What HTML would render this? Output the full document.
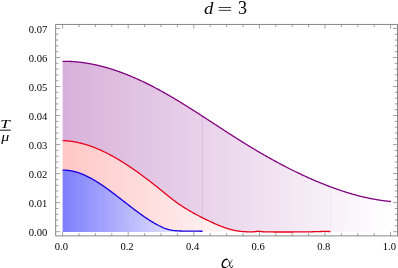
<!DOCTYPE html>
<html><head><meta charset="utf-8"><style>
html,body{margin:0;padding:0;background:#fff;}
svg{display:block;}
text{font-family:"Liberation Serif",serif;fill:#000;}
</style></head><body>
<div style="will-change:transform;width:398px;height:268px;overflow:hidden"><svg width="398" height="268" viewBox="0 0 398 268">
<defs>
<linearGradient id="gp" gradientUnits="userSpaceOnUse" x1="62.6" y1="0" x2="391" y2="0">
<stop offset="0" stop-color="#d8b1da"/><stop offset="1" stop-color="#ffffff"/></linearGradient>
<linearGradient id="gr" gradientUnits="userSpaceOnUse" x1="62.6" y1="0" x2="265" y2="0">
<stop offset="0" stop-color="#ffc6c6"/><stop offset="1" stop-color="#ffffff"/></linearGradient>
<linearGradient id="gb" gradientUnits="userSpaceOnUse" x1="62.6" y1="0" x2="202.5" y2="0">
<stop offset="0" stop-color="#7e7efc"/><stop offset="1" stop-color="#fafaff"/></linearGradient>
</defs>
<rect width="398" height="268" fill="#fff"/>
<path d="M62.60,61.32 L63.10,61.31 L63.60,61.31 L64.10,61.31 L64.60,61.31 L65.10,61.31 L65.60,61.32 L66.10,61.32 L66.60,61.33 L67.10,61.34 L67.60,61.35 L68.10,61.37 L68.60,61.38 L69.10,61.40 L69.60,61.42 L70.10,61.44 L70.60,61.46 L71.10,61.49 L71.60,61.52 L72.10,61.55 L72.60,61.58 L73.10,61.61 L73.60,61.64 L74.10,61.68 L74.60,61.72 L75.10,61.76 L75.60,61.80 L76.10,61.84 L76.60,61.89 L77.10,61.93 L77.60,61.98 L78.10,62.03 L78.60,62.08 L79.10,62.14 L79.60,62.19 L80.10,62.25 L80.60,62.31 L81.10,62.37 L81.60,62.43 L82.10,62.49 L82.60,62.56 L83.10,62.63 L83.60,62.70 L84.10,62.77 L84.60,62.84 L85.10,62.92 L85.60,62.99 L86.10,63.07 L86.60,63.15 L87.10,63.23 L87.60,63.31 L88.10,63.40 L88.60,63.48 L89.10,63.57 L89.60,63.66 L90.10,63.75 L90.60,63.84 L91.10,63.94 L91.60,64.03 L92.10,64.13 L92.60,64.23 L93.10,64.33 L93.60,64.43 L94.10,64.54 L94.60,64.64 L95.10,64.75 L95.60,64.86 L96.10,64.97 L96.60,65.08 L97.10,65.20 L97.60,65.31 L98.10,65.43 L98.60,65.55 L99.10,65.67 L99.60,65.79 L100.10,65.91 L100.60,66.03 L101.10,66.16 L101.60,66.29 L102.10,66.42 L102.60,66.55 L103.10,66.68 L103.60,66.81 L104.10,66.95 L104.60,67.09 L105.10,67.22 L105.60,67.36 L106.10,67.50 L106.60,67.65 L107.10,67.79 L107.60,67.94 L108.10,68.08 L108.60,68.23 L109.10,68.38 L109.60,68.53 L110.10,68.69 L110.60,68.84 L111.10,69.00 L111.60,69.15 L112.10,69.31 L112.60,69.47 L113.10,69.63 L113.60,69.80 L114.10,69.96 L114.60,70.13 L115.10,70.29 L115.60,70.46 L116.10,70.63 L116.60,70.80 L117.10,70.97 L117.60,71.15 L118.10,71.32 L118.60,71.50 L119.10,71.68 L119.60,71.86 L120.10,72.04 L120.60,72.22 L121.10,72.40 L121.60,72.59 L122.10,72.77 L122.60,72.96 L123.10,73.15 L123.60,73.34 L124.10,73.53 L124.60,73.73 L125.10,73.92 L125.60,74.11 L126.10,74.31 L126.60,74.51 L127.10,74.71 L127.60,74.91 L128.10,75.11 L128.60,75.31 L129.10,75.52 L129.60,75.72 L130.10,75.93 L130.60,76.14 L131.10,76.35 L131.60,76.56 L132.10,76.77 L132.60,76.98 L133.10,77.19 L133.60,77.41 L134.10,77.63 L134.60,77.84 L135.10,78.06 L135.60,78.28 L136.10,78.50 L136.60,78.73 L137.10,78.95 L137.60,79.18 L138.10,79.40 L138.60,79.63 L139.10,79.86 L139.60,80.09 L140.10,80.32 L140.60,80.55 L141.10,80.78 L141.60,81.02 L142.10,81.25 L142.60,81.49 L143.10,81.73 L143.60,81.96 L144.10,82.20 L144.60,82.44 L145.10,82.69 L145.60,82.93 L146.10,83.17 L146.60,83.42 L147.10,83.66 L147.60,83.91 L148.10,84.16 L148.60,84.41 L149.10,84.66 L149.60,84.91 L150.10,85.16 L150.60,85.42 L151.10,85.67 L151.60,85.93 L152.10,86.19 L152.60,86.44 L153.10,86.70 L153.60,86.96 L154.10,87.22 L154.60,87.49 L155.10,87.75 L155.60,88.01 L156.10,88.28 L156.60,88.54 L157.10,88.81 L157.60,89.08 L158.10,89.35 L158.60,89.62 L159.10,89.89 L159.60,90.16 L160.10,90.43 L160.60,90.71 L161.10,90.98 L161.60,91.26 L162.10,91.53 L162.60,91.81 L163.10,92.09 L163.60,92.37 L164.10,92.65 L164.60,92.93 L165.10,93.21 L165.60,93.49 L166.10,93.78 L166.60,94.06 L167.10,94.35 L167.60,94.63 L168.10,94.92 L168.60,95.21 L169.10,95.50 L169.60,95.79 L170.10,96.08 L170.60,96.37 L171.10,96.66 L171.60,96.95 L172.10,97.25 L172.60,97.54 L173.10,97.84 L173.60,98.13 L174.10,98.43 L174.60,98.73 L175.10,99.03 L175.60,99.32 L176.10,99.62 L176.60,99.92 L177.10,100.23 L177.60,100.53 L178.10,100.83 L178.60,101.13 L179.10,101.44 L179.60,101.74 L180.10,102.05 L180.60,102.35 L181.10,102.66 L181.60,102.96 L182.10,103.27 L182.60,103.58 L183.10,103.89 L183.60,104.20 L184.10,104.51 L184.60,104.82 L185.10,105.13 L185.60,105.44 L186.10,105.75 L186.60,106.06 L187.10,106.38 L187.60,106.69 L188.10,107.00 L188.60,107.32 L189.10,107.63 L189.60,107.95 L190.10,108.26 L190.60,108.58 L191.10,108.90 L191.60,109.21 L192.10,109.53 L192.60,109.85 L193.10,110.17 L193.60,110.49 L194.10,110.80 L194.60,111.12 L195.10,111.44 L195.60,111.76 L196.10,112.08 L196.60,112.40 L197.10,112.73 L197.60,113.05 L198.10,113.37 L198.60,113.69 L199.10,114.01 L199.60,114.34 L200.10,114.66 L200.60,114.98 L201.10,115.30 L201.60,115.63 L202.10,115.95 L202.60,116.28 L203.10,116.60 L203.60,116.92 L204.10,117.25 L204.60,117.57 L205.10,117.90 L205.60,118.22 L206.10,118.55 L206.60,118.87 L207.10,119.20 L207.60,119.53 L208.10,119.85 L208.60,120.18 L209.10,120.50 L209.60,120.83 L210.10,121.16 L210.60,121.48 L211.10,121.81 L211.60,122.13 L212.10,122.46 L212.60,122.79 L213.10,123.11 L213.60,123.44 L214.10,123.77 L214.60,124.09 L215.10,124.42 L215.60,124.75 L216.10,125.07 L216.60,125.40 L217.10,125.72 L217.60,126.05 L218.10,126.38 L218.60,126.70 L219.10,127.03 L219.60,127.36 L220.10,127.68 L220.60,128.01 L221.10,128.33 L221.60,128.66 L222.10,128.98 L222.60,129.31 L223.10,129.63 L223.60,129.96 L224.10,130.28 L224.60,130.61 L225.10,130.93 L225.60,131.26 L226.10,131.58 L226.60,131.90 L227.10,132.23 L227.60,132.55 L228.10,132.87 L228.60,133.20 L229.10,133.52 L229.60,133.84 L230.10,134.16 L230.60,134.48 L231.10,134.81 L231.60,135.13 L232.10,135.45 L232.60,135.77 L233.10,136.09 L233.60,136.41 L234.10,136.73 L234.60,137.04 L235.10,137.36 L235.60,137.68 L236.10,138.00 L236.60,138.32 L237.10,138.63 L237.60,138.95 L238.10,139.27 L238.60,139.58 L239.10,139.90 L239.60,140.21 L240.10,140.53 L240.60,140.84 L241.10,141.15 L241.60,141.46 L242.10,141.78 L242.60,142.09 L243.10,142.40 L243.60,142.71 L244.10,143.02 L244.60,143.33 L245.10,143.64 L245.60,143.95 L246.10,144.26 L246.60,144.56 L247.10,144.87 L247.60,145.18 L248.10,145.48 L248.60,145.79 L249.10,146.09 L249.60,146.40 L250.10,146.70 L250.60,147.00 L251.10,147.31 L251.60,147.61 L252.10,147.91 L252.60,148.21 L253.10,148.51 L253.60,148.81 L254.10,149.11 L254.60,149.41 L255.10,149.70 L255.60,150.00 L256.10,150.30 L256.60,150.59 L257.10,150.89 L257.60,151.19 L258.10,151.48 L258.60,151.77 L259.10,152.07 L259.60,152.36 L260.10,152.65 L260.60,152.94 L261.10,153.23 L261.60,153.52 L262.10,153.81 L262.60,154.10 L263.10,154.39 L263.60,154.68 L264.10,154.97 L264.60,155.25 L265.10,155.54 L265.60,155.82 L266.10,156.11 L266.60,156.39 L267.10,156.68 L267.60,156.96 L268.10,157.24 L268.60,157.52 L269.10,157.80 L269.60,158.08 L270.10,158.36 L270.60,158.64 L271.10,158.92 L271.60,159.20 L272.10,159.48 L272.60,159.75 L273.10,160.03 L273.60,160.30 L274.10,160.58 L274.60,160.85 L275.10,161.12 L275.60,161.40 L276.10,161.67 L276.60,161.94 L277.10,162.21 L277.60,162.48 L278.10,162.75 L278.60,163.02 L279.10,163.29 L279.60,163.55 L280.10,163.82 L280.60,164.09 L281.10,164.35 L281.60,164.62 L282.10,164.88 L282.60,165.14 L283.10,165.40 L283.60,165.67 L284.10,165.93 L284.60,166.19 L285.10,166.45 L285.60,166.71 L286.10,166.96 L286.60,167.22 L287.10,167.48 L287.60,167.73 L288.10,167.99 L288.60,168.24 L289.10,168.50 L289.60,168.75 L290.10,169.00 L290.60,169.26 L291.10,169.51 L291.60,169.76 L292.10,170.01 L292.60,170.26 L293.10,170.50 L293.60,170.75 L294.10,171.00 L294.60,171.24 L295.10,171.49 L295.60,171.73 L296.10,171.98 L296.60,172.22 L297.10,172.46 L297.60,172.70 L298.10,172.94 L298.60,173.18 L299.10,173.42 L299.60,173.66 L300.10,173.90 L300.60,174.13 L301.10,174.37 L301.60,174.61 L302.10,174.84 L302.60,175.07 L303.10,175.31 L303.60,175.54 L304.10,175.77 L304.60,176.00 L305.10,176.23 L305.60,176.46 L306.10,176.69 L306.60,176.92 L307.10,177.14 L307.60,177.37 L308.10,177.59 L308.60,177.82 L309.10,178.04 L309.60,178.27 L310.10,178.49 L310.60,178.71 L311.10,178.93 L311.60,179.15 L312.10,179.37 L312.60,179.58 L313.10,179.80 L313.60,180.02 L314.10,180.23 L314.60,180.45 L315.10,180.66 L315.60,180.87 L316.10,181.09 L316.60,181.30 L317.10,181.51 L317.60,181.72 L318.10,181.93 L318.60,182.13 L319.10,182.34 L319.60,182.55 L320.10,182.75 L320.60,182.96 L321.10,183.16 L321.60,183.36 L322.10,183.57 L322.60,183.77 L323.10,183.97 L323.60,184.17 L324.10,184.37 L324.60,184.56 L325.10,184.76 L325.60,184.96 L326.10,185.15 L326.60,185.35 L327.10,185.54 L327.60,185.73 L328.10,185.92 L328.60,186.11 L329.10,186.30 L329.60,186.49 L330.10,186.68 L330.60,186.87 L331.10,187.05 L331.60,187.24 L332.10,187.42 L332.60,187.61 L333.10,187.79 L333.60,187.97 L334.10,188.15 L334.60,188.33 L335.10,188.51 L335.60,188.69 L336.10,188.87 L336.60,189.04 L337.10,189.22 L337.60,189.39 L338.10,189.57 L338.60,189.74 L339.10,189.91 L339.60,190.08 L340.10,190.25 L340.60,190.42 L341.10,190.59 L341.60,190.75 L342.10,190.92 L342.60,191.08 L343.10,191.25 L343.60,191.41 L344.10,191.57 L344.60,191.73 L345.10,191.89 L345.60,192.05 L346.10,192.21 L346.60,192.36 L347.10,192.52 L347.60,192.67 L348.10,192.82 L348.60,192.98 L349.10,193.13 L349.60,193.28 L350.10,193.43 L350.60,193.57 L351.10,193.72 L351.60,193.87 L352.10,194.01 L352.60,194.15 L353.10,194.30 L353.60,194.44 L354.10,194.58 L354.60,194.72 L355.10,194.85 L355.60,194.99 L356.10,195.13 L356.60,195.26 L357.10,195.39 L357.60,195.53 L358.10,195.66 L358.60,195.79 L359.10,195.92 L359.60,196.04 L360.10,196.17 L360.60,196.30 L361.10,196.42 L361.60,196.54 L362.10,196.66 L362.60,196.78 L363.10,196.90 L363.60,197.02 L364.10,197.14 L364.60,197.25 L365.10,197.37 L365.60,197.48 L366.10,197.59 L366.60,197.70 L367.10,197.81 L367.60,197.92 L368.10,198.03 L368.60,198.14 L369.10,198.24 L369.60,198.34 L370.10,198.44 L370.60,198.55 L371.10,198.65 L371.60,198.74 L372.10,198.84 L372.60,198.94 L373.10,199.03 L373.60,199.12 L374.10,199.22 L374.60,199.31 L375.10,199.39 L375.60,199.48 L376.10,199.57 L376.60,199.65 L377.10,199.74 L377.60,199.82 L378.10,199.90 L378.60,199.98 L379.10,200.06 L379.60,200.14 L380.10,200.21 L380.60,200.29 L381.10,200.36 L381.60,200.43 L382.10,200.50 L382.60,200.57 L383.10,200.64 L383.60,200.71 L384.10,200.77 L384.60,200.83 L385.10,200.90 L385.60,200.96 L386.10,201.02 L386.60,201.07 L387.10,201.13 L387.60,201.18 L388.10,201.24 L388.60,201.29 L389.10,201.34 L389.60,201.39 L390.10,201.44 L390.60,201.48 L391.00,201.52 L391.00,231.70 L390.00,231.70 L389.00,231.70 L388.00,231.70 L387.00,231.70 L386.00,231.70 L385.00,231.70 L384.00,231.70 L383.00,231.70 L382.00,231.70 L381.00,231.70 L380.00,231.70 L379.00,231.70 L378.00,231.70 L377.00,231.70 L376.00,231.70 L375.00,231.70 L374.00,231.70 L373.00,231.70 L372.00,231.70 L371.00,231.70 L370.00,231.70 L369.00,231.70 L368.00,231.70 L367.00,231.70 L366.00,231.70 L365.00,231.70 L364.00,231.70 L363.00,231.70 L362.00,231.70 L361.00,231.70 L360.00,231.70 L359.00,231.70 L358.00,231.70 L357.00,231.70 L356.00,231.70 L355.00,231.70 L354.00,231.70 L353.00,231.70 L352.00,231.70 L351.00,231.70 L350.00,231.70 L349.00,231.70 L348.00,231.70 L347.00,231.70 L346.00,231.70 L345.00,231.70 L344.00,231.70 L343.00,231.70 L342.00,231.70 L341.00,231.70 L340.00,231.70 L339.00,231.70 L338.00,231.70 L337.00,231.70 L336.00,231.70 L335.00,231.70 L334.00,231.70 L333.00,231.70 L332.00,231.70 L331.00,231.70 L330.00,231.53 L329.00,231.51 L328.00,231.48 L327.00,231.46 L326.00,231.45 L325.00,231.45 L324.00,231.46 L323.00,231.47 L322.00,231.49 L321.00,231.52 L320.00,231.55 L319.00,231.58 L318.00,231.62 L317.00,231.65 L316.00,231.68 L315.00,231.70 L314.00,231.72 L313.00,231.74 L312.00,231.76 L311.00,231.78 L310.00,231.80 L309.00,231.83 L308.00,231.85 L307.00,231.86 L306.00,231.88 L305.00,231.90 L304.00,231.91 L303.00,231.93 L302.00,231.94 L301.00,231.94 L300.00,231.95 L299.00,231.95 L298.00,231.96 L297.00,231.96 L296.00,231.97 L295.00,231.97 L294.00,231.97 L293.00,231.98 L292.00,231.98 L291.00,231.98 L290.00,231.99 L289.00,231.99 L288.00,231.99 L287.00,231.99 L286.00,231.99 L285.00,232.00 L284.00,232.00 L283.00,232.00 L282.00,232.00 L281.00,232.00 L280.00,232.00 L279.00,232.00 L278.00,232.00 L277.00,231.99 L276.00,231.99 L275.00,231.98 L274.00,231.98 L273.00,231.97 L272.00,231.96 L271.00,231.95 L270.00,231.93 L269.00,231.92 L268.00,231.90 L267.00,231.89 L266.00,231.87 L265.00,231.85 L264.00,231.82 L263.00,231.76 L262.00,231.68 L261.00,231.60 L260.00,231.47 L259.00,231.32 L258.00,231.25 L257.00,231.35 L256.00,231.56 L255.00,231.70 L254.00,231.75 L253.00,231.79 L252.00,231.82 L251.00,231.84 L250.00,231.85 L249.00,231.84 L248.00,231.82 L247.00,231.79 L246.00,231.74 L245.00,231.67 L244.00,231.60 L243.00,231.56 L242.00,231.49 L241.00,231.41 L240.00,231.31 L239.00,231.18 L238.00,231.04 L237.00,230.88 L236.00,230.71 L235.00,230.51 L234.00,230.30 L233.00,230.07 L232.00,229.83 L231.00,229.57 L230.00,229.30 L229.00,229.01 L228.00,228.71 L227.00,228.40 L226.00,228.07 L225.00,227.73 L224.00,227.38 L223.00,227.01 L222.00,226.64 L221.00,226.25 L220.00,225.86 L219.00,225.45 L218.00,225.04 L217.00,224.62 L216.00,224.18 L215.00,223.74 L214.00,223.30 L213.00,222.84 L212.00,222.38 L211.00,221.92 L210.00,221.45 L209.00,220.97 L208.00,220.49 L207.00,220.00 L206.00,219.51 L205.00,219.02 L204.00,218.52 L203.00,218.02 L202.00,217.52 L201.00,217.02 L200.00,216.51 L199.00,215.99 L198.00,215.47 L197.00,214.94 L196.00,214.41 L195.00,213.87 L194.00,213.33 L193.00,212.78 L192.00,212.22 L191.00,211.65 L190.00,211.08 L189.00,210.50 L188.00,209.91 L187.00,209.31 L186.00,208.70 L185.00,208.08 L184.00,207.45 L183.00,206.81 L182.00,206.16 L181.00,205.50 L180.00,204.83 L179.00,204.14 L178.00,203.44 L177.00,202.74 L176.00,202.01 L175.00,201.28 L174.00,200.53 L173.00,199.77 L172.00,199.00 L171.00,198.21 L170.00,197.42 L169.00,196.63 L168.00,195.82 L167.00,195.01 L166.00,194.20 L165.00,193.39 L164.00,192.57 L163.00,191.75 L162.00,190.94 L161.00,190.12 L160.00,189.31 L159.00,188.50 L158.00,187.70 L157.00,186.90 L156.00,186.10 L155.00,185.31 L154.00,184.52 L153.00,183.73 L152.00,182.94 L151.00,182.16 L150.00,181.39 L149.00,180.62 L148.00,179.85 L147.00,179.09 L146.00,178.33 L145.00,177.57 L144.00,176.82 L143.00,176.08 L142.00,175.34 L141.00,174.60 L140.00,173.87 L139.00,173.14 L138.00,172.42 L137.00,171.71 L136.00,171.00 L135.00,170.29 L134.00,169.60 L133.00,168.90 L132.00,168.22 L131.00,167.53 L130.00,166.86 L129.00,166.19 L128.00,165.53 L127.00,164.87 L126.00,164.22 L125.00,163.57 L124.00,162.94 L123.00,162.31 L122.00,161.68 L121.00,161.07 L120.00,160.46 L119.00,159.85 L118.00,159.26 L117.00,158.67 L116.00,158.09 L115.00,157.51 L114.00,156.95 L113.00,156.39 L112.00,155.84 L111.00,155.30 L110.00,154.76 L109.00,154.24 L108.00,153.72 L107.00,153.21 L106.00,152.71 L105.00,152.22 L104.00,151.73 L103.00,151.26 L102.00,150.79 L101.00,150.33 L100.00,149.89 L99.00,149.45 L98.00,149.02 L97.00,148.60 L96.00,148.19 L95.00,147.78 L94.00,147.39 L93.00,147.01 L92.00,146.64 L91.00,146.28 L90.00,145.92 L89.00,145.58 L88.00,145.25 L87.00,144.93 L86.00,144.62 L85.00,144.32 L84.00,144.03 L83.00,143.75 L82.00,143.48 L81.00,143.22 L80.00,142.98 L79.00,142.74 L78.00,142.52 L77.00,142.31 L76.00,142.11 L75.00,141.92 L74.00,141.74 L73.00,141.58 L72.00,141.42 L71.00,141.28 L70.00,141.15 L69.00,141.04 L68.00,140.93 L67.00,140.84 L66.00,140.76 L65.00,140.69 L64.00,140.64 L63.00,140.60 L62.6,140.58 Z" fill="url(#gp)"/>
<path d="M62.60,140.58 L63.10,140.60 L63.60,140.62 L64.10,140.64 L64.60,140.67 L65.10,140.70 L65.60,140.73 L66.10,140.77 L66.60,140.81 L67.10,140.85 L67.60,140.89 L68.10,140.94 L68.60,140.99 L69.10,141.05 L69.60,141.10 L70.10,141.17 L70.60,141.23 L71.10,141.30 L71.60,141.37 L72.10,141.44 L72.60,141.51 L73.10,141.59 L73.60,141.67 L74.10,141.76 L74.60,141.85 L75.10,141.94 L75.60,142.03 L76.10,142.13 L76.60,142.23 L77.10,142.33 L77.60,142.43 L78.10,142.54 L78.60,142.65 L79.10,142.77 L79.60,142.88 L80.10,143.00 L80.60,143.12 L81.10,143.25 L81.60,143.38 L82.10,143.51 L82.60,143.64 L83.10,143.78 L83.60,143.91 L84.10,144.06 L84.60,144.20 L85.10,144.35 L85.60,144.50 L86.10,144.65 L86.60,144.80 L87.10,144.96 L87.60,145.12 L88.10,145.28 L88.60,145.45 L89.10,145.61 L89.60,145.78 L90.10,145.96 L90.60,146.13 L91.10,146.31 L91.60,146.49 L92.10,146.67 L92.60,146.86 L93.10,147.05 L93.60,147.24 L94.10,147.43 L94.60,147.63 L95.10,147.82 L95.60,148.02 L96.10,148.23 L96.60,148.43 L97.10,148.64 L97.60,148.85 L98.10,149.06 L98.60,149.27 L99.10,149.49 L99.60,149.71 L100.10,149.93 L100.60,150.15 L101.10,150.38 L101.60,150.61 L102.10,150.84 L102.60,151.07 L103.10,151.30 L103.60,151.54 L104.10,151.78 L104.60,152.02 L105.10,152.27 L105.60,152.51 L106.10,152.76 L106.60,153.01 L107.10,153.26 L107.60,153.52 L108.10,153.77 L108.60,154.03 L109.10,154.29 L109.60,154.55 L110.10,154.82 L110.60,155.08 L111.10,155.35 L111.60,155.62 L112.10,155.90 L112.60,156.17 L113.10,156.45 L113.60,156.72 L114.10,157.01 L114.60,157.29 L115.10,157.57 L115.60,157.86 L116.10,158.15 L116.60,158.44 L117.10,158.73 L117.60,159.02 L118.10,159.32 L118.60,159.61 L119.10,159.91 L119.60,160.21 L120.10,160.52 L120.60,160.82 L121.10,161.13 L121.60,161.44 L122.10,161.74 L122.60,162.06 L123.10,162.37 L123.60,162.68 L124.10,163.00 L124.60,163.32 L125.10,163.64 L125.60,163.96 L126.10,164.28 L126.60,164.61 L127.10,164.93 L127.60,165.26 L128.10,165.59 L128.60,165.92 L129.10,166.26 L129.60,166.59 L130.10,166.93 L130.60,167.26 L131.10,167.60 L131.60,167.94 L132.10,168.28 L132.60,168.63 L133.10,168.97 L133.60,169.32 L134.10,169.67 L134.60,170.01 L135.10,170.36 L135.60,170.72 L136.10,171.07 L136.60,171.42 L137.10,171.78 L137.60,172.14 L138.10,172.50 L138.60,172.86 L139.10,173.22 L139.60,173.58 L140.10,173.94 L140.60,174.31 L141.10,174.67 L141.60,175.04 L142.10,175.41 L142.60,175.78 L143.10,176.15 L143.60,176.52 L144.10,176.90 L144.60,177.27 L145.10,177.65 L145.60,178.02 L146.10,178.40 L146.60,178.78 L147.10,179.16 L147.60,179.54 L148.10,179.93 L148.60,180.31 L149.10,180.69 L149.60,181.08 L150.10,181.47 L150.60,181.85 L151.10,182.24 L151.60,182.63 L152.10,183.02 L152.60,183.41 L153.10,183.81 L153.60,184.20 L154.10,184.59 L154.60,184.99 L155.10,185.39 L155.60,185.78 L156.10,186.18 L156.60,186.58 L157.10,186.98 L157.60,187.38 L158.10,187.78 L158.60,188.18 L159.10,188.58 L159.60,188.99 L160.10,189.39 L160.60,189.80 L161.10,190.20 L161.60,190.61 L162.10,191.02 L162.60,191.43 L163.10,191.83 L163.60,192.24 L164.10,192.65 L164.60,193.06 L165.10,193.47 L165.60,193.87 L166.10,194.28 L166.60,194.69 L167.10,195.09 L167.60,195.50 L168.10,195.90 L168.60,196.31 L169.10,196.71 L169.60,197.11 L170.10,197.50 L170.60,197.90 L171.10,198.29 L171.60,198.68 L172.10,199.07 L172.60,199.46 L173.10,199.84 L173.60,200.23 L174.10,200.60 L174.60,200.98 L175.10,201.35 L175.60,201.72 L176.10,202.09 L176.60,202.45 L177.10,202.81 L177.60,203.16 L178.10,203.51 L178.60,203.86 L179.10,204.21 L179.60,204.55 L180.10,204.89 L180.60,205.23 L181.10,205.57 L181.60,205.90 L182.10,206.23 L182.60,206.55 L183.10,206.87 L183.60,207.19 L184.10,207.51 L184.60,207.83 L185.10,208.14 L185.60,208.45 L186.10,208.76 L186.60,209.06 L187.10,209.37 L187.60,209.67 L188.10,209.97 L188.60,210.26 L189.10,210.56 L189.60,210.85 L190.10,211.14 L190.60,211.42 L191.10,211.71 L191.60,211.99 L192.10,212.28 L192.60,212.55 L193.10,212.83 L193.60,213.11 L194.10,213.38 L194.60,213.66 L195.10,213.93 L195.60,214.20 L196.10,214.46 L196.60,214.73 L197.10,215.00 L197.60,215.26 L198.10,215.52 L198.60,215.78 L199.10,216.04 L199.60,216.30 L200.10,216.56 L200.60,216.81 L201.10,217.07 L201.60,217.32 L202.10,217.57 L202.60,217.82 L203.10,218.08 L203.60,218.32 L204.10,218.57 L204.60,218.82 L205.10,219.07 L205.60,219.32 L206.10,219.56 L206.60,219.81 L207.10,220.05 L207.60,220.29 L208.10,220.54 L208.60,220.78 L209.10,221.02 L209.60,221.26 L210.10,221.49 L210.60,221.73 L211.10,221.96 L211.60,222.20 L212.10,222.43 L212.60,222.66 L213.10,222.89 L213.60,223.12 L214.10,223.34 L214.60,223.57 L215.10,223.79 L215.60,224.01 L216.10,224.23 L216.60,224.44 L217.10,224.66 L217.60,224.87 L218.10,225.08 L218.60,225.29 L219.10,225.49 L219.60,225.70 L220.10,225.90 L220.60,226.10 L221.10,226.29 L221.60,226.49 L222.10,226.68 L222.60,226.87 L223.10,227.05 L223.60,227.23 L224.10,227.41 L224.60,227.59 L225.10,227.76 L225.60,227.94 L226.10,228.10 L226.60,228.27 L227.10,228.43 L227.60,228.59 L228.10,228.74 L228.60,228.89 L229.10,229.04 L229.60,229.19 L230.10,229.33 L230.60,229.47 L231.10,229.60 L231.60,229.73 L232.10,229.86 L232.60,229.98 L233.10,230.10 L233.60,230.21 L234.10,230.32 L234.60,230.43 L235.10,230.53 L235.60,230.63 L236.10,230.72 L236.60,230.81 L237.10,230.90 L237.60,230.98 L238.10,231.06 L238.60,231.13 L239.10,231.20 L239.60,231.26 L240.10,231.32 L240.60,231.37 L241.10,231.42 L241.60,231.46 L242.10,231.50 L242.60,231.53 L243.10,231.56 L243.60,231.59 L244.00,231.60 L245.00,231.67 L246.00,231.74 L247.00,231.79 L248.00,231.82 L249.00,231.84 L250.00,231.85 L251.00,231.84 L252.00,231.82 L253.00,231.79 L254.00,231.75 L255.00,231.70 L256.00,231.56 L257.00,231.35 L258.00,231.25 L259.00,231.32 L260.00,231.47 L261.00,231.60 L262.00,231.68 L263.00,231.76 L264.00,231.82 L265.00,231.85 L266.00,231.87 L267.00,231.89 L268.00,231.90 L269.00,231.92 L270.00,231.93 L271.00,231.95 L272.00,231.96 L273.00,231.97 L274.00,231.98 L275.00,231.98 L276.00,231.99 L277.00,231.99 L278.00,232.00 L279.00,232.00 L280.00,232.00 L281.00,232.00 L282.00,232.00 L283.00,232.00 L284.00,232.00 L285.00,232.00 L286.00,231.99 L287.00,231.99 L288.00,231.99 L289.00,231.99 L290.00,231.99 L291.00,231.98 L292.00,231.98 L293.00,231.98 L294.00,231.97 L295.00,231.97 L296.00,231.97 L297.00,231.96 L298.00,231.96 L299.00,231.95 L300.00,231.95 L301.00,231.94 L302.00,231.94 L303.00,231.93 L304.00,231.91 L305.00,231.90 L306.00,231.88 L307.00,231.86 L308.00,231.85 L309.00,231.83 L310.00,231.80 L311.00,231.78 L312.00,231.76 L313.00,231.74 L314.00,231.72 L315.00,231.70 L316.00,231.68 L317.00,231.65 L318.00,231.62 L319.00,231.58 L320.00,231.55 L321.00,231.52 L322.00,231.49 L323.00,231.47 L324.00,231.46 L325.00,231.45 L326.00,231.45 L327.00,231.46 L328.00,231.48 L329.00,231.51 L330.00,231.53 L330.50,231.55 L330.50,231.70 L329.50,231.70 L328.50,231.70 L327.50,231.70 L326.50,231.70 L325.50,231.70 L324.50,231.70 L323.50,231.70 L322.50,231.70 L321.50,231.70 L320.50,231.70 L319.50,231.70 L318.50,231.70 L317.50,231.70 L316.50,231.70 L315.50,231.70 L314.50,231.70 L313.50,231.70 L312.50,231.70 L311.50,231.70 L310.50,231.70 L309.50,231.70 L308.50,231.70 L307.50,231.70 L306.50,231.70 L305.50,231.70 L304.50,231.70 L303.50,231.70 L302.50,231.70 L301.50,231.70 L300.50,231.70 L299.50,231.70 L298.50,231.70 L297.50,231.70 L296.50,231.70 L295.50,231.70 L294.50,231.70 L293.50,231.70 L292.50,231.70 L291.50,231.70 L290.50,231.70 L289.50,231.70 L288.50,231.70 L287.50,231.70 L286.50,231.70 L285.50,231.70 L284.50,231.70 L283.50,231.70 L282.50,231.70 L281.50,231.70 L280.50,231.70 L279.50,231.70 L278.50,231.70 L277.50,231.70 L276.50,231.70 L275.50,231.70 L274.50,231.70 L273.50,231.70 L272.50,231.70 L271.50,231.70 L270.50,231.70 L269.50,231.70 L268.50,231.70 L267.50,231.70 L266.50,231.70 L265.50,231.70 L264.50,231.70 L263.50,231.70 L262.50,231.70 L261.50,231.70 L260.50,231.70 L259.50,231.70 L258.50,231.70 L257.50,231.70 L256.50,231.70 L255.50,231.70 L254.50,231.70 L253.50,231.70 L252.50,231.70 L251.50,231.70 L250.50,231.70 L249.50,231.70 L248.50,231.70 L247.50,231.70 L246.50,231.70 L245.50,231.70 L244.50,231.70 L243.50,231.70 L242.50,231.70 L241.50,231.70 L240.50,231.70 L239.50,231.70 L238.50,231.70 L237.50,231.70 L236.50,231.70 L235.50,231.70 L234.50,231.70 L233.50,231.70 L232.50,231.70 L231.50,231.70 L230.50,231.70 L229.50,231.70 L228.50,231.70 L227.50,231.70 L226.50,231.70 L225.50,231.70 L224.50,231.70 L223.50,231.70 L222.50,231.70 L221.50,231.70 L220.50,231.70 L219.50,231.70 L218.50,231.70 L217.50,231.70 L216.50,231.70 L215.50,231.70 L214.50,231.70 L213.50,231.70 L212.50,231.70 L211.50,231.70 L210.50,231.70 L209.50,231.70 L208.50,231.70 L207.50,231.70 L206.50,231.70 L205.50,231.70 L204.50,231.70 L203.50,231.70 L202.50,231.30 L201.50,231.27 L200.50,231.24 L199.50,231.21 L198.50,231.19 L197.50,231.17 L196.50,231.15 L195.50,231.13 L194.50,231.12 L193.50,231.11 L192.50,231.10 L191.50,231.10 L190.50,231.10 L189.50,231.10 L188.50,231.10 L187.50,231.10 L186.50,231.10 L185.50,231.10 L184.50,231.10 L183.50,231.10 L182.50,231.08 L181.50,231.05 L180.50,231.02 L179.50,230.97 L178.50,230.92 L177.50,230.87 L176.50,230.80 L175.50,230.71 L174.50,230.61 L173.50,230.49 L172.50,230.35 L171.50,230.19 L170.50,229.99 L169.50,229.75 L168.50,229.49 L167.50,229.21 L166.50,228.91 L165.50,228.60 L164.50,228.25 L163.50,227.86 L162.50,227.43 L161.50,226.96 L160.50,226.46 L159.50,225.96 L158.50,225.44 L157.50,224.92 L156.50,224.37 L155.50,223.82 L154.50,223.25 L153.50,222.67 L152.50,222.07 L151.50,221.46 L150.50,220.84 L149.50,220.21 L148.50,219.57 L147.50,218.92 L146.50,218.25 L145.50,217.58 L144.50,216.89 L143.50,216.20 L142.50,215.50 L141.50,214.79 L140.50,214.08 L139.50,213.35 L138.50,212.62 L137.50,211.89 L136.50,211.14 L135.50,210.40 L134.50,209.64 L133.50,208.88 L132.50,208.12 L131.50,207.36 L130.50,206.59 L129.50,205.81 L128.50,205.04 L127.50,204.26 L126.50,203.48 L125.50,202.71 L124.50,201.93 L123.50,201.14 L122.50,200.36 L121.50,199.58 L120.50,198.81 L119.50,198.03 L118.50,197.25 L117.50,196.48 L116.50,195.71 L115.50,194.94 L114.50,194.18 L113.50,193.42 L112.50,192.66 L111.50,191.91 L110.50,191.17 L109.50,190.43 L108.50,189.70 L107.50,188.97 L106.50,188.25 L105.50,187.54 L104.50,186.84 L103.50,186.14 L102.50,185.45 L101.50,184.78 L100.50,184.11 L99.50,183.45 L98.50,182.81 L97.50,182.17 L96.50,181.54 L95.50,180.93 L94.50,180.33 L93.50,179.74 L92.50,179.17 L91.50,178.61 L90.50,178.06 L89.50,177.53 L88.50,177.01 L87.50,176.51 L86.50,176.02 L85.50,175.55 L84.50,175.10 L83.50,174.66 L82.50,174.24 L81.50,173.84 L80.50,173.46 L79.50,173.10 L78.50,172.75 L77.50,172.43 L76.50,172.12 L75.50,171.84 L74.50,171.57 L73.50,171.33 L72.50,171.11 L71.50,170.91 L70.50,170.74 L69.50,170.59 L68.50,170.46 L67.50,170.35 L66.50,170.27 L65.50,170.22 L64.50,170.19 L63.50,170.18 L62.6,170.20 Z" fill="url(#gr)"/>
<path d="M62.60,170.20 L63.10,170.19 L63.60,170.18 L64.10,170.18 L64.60,170.19 L65.10,170.20 L65.60,170.22 L66.10,170.25 L66.60,170.28 L67.10,170.32 L67.60,170.36 L68.10,170.41 L68.60,170.47 L69.10,170.53 L69.60,170.60 L70.10,170.67 L70.60,170.75 L71.10,170.84 L71.60,170.93 L72.10,171.03 L72.60,171.13 L73.10,171.24 L73.60,171.35 L74.10,171.47 L74.60,171.60 L75.10,171.73 L75.60,171.86 L76.10,172.00 L76.60,172.15 L77.10,172.30 L77.60,172.46 L78.10,172.62 L78.60,172.78 L79.10,172.96 L79.60,173.13 L80.10,173.31 L80.60,173.50 L81.10,173.69 L81.60,173.88 L82.10,174.08 L82.60,174.28 L83.10,174.49 L83.60,174.71 L84.10,174.92 L84.60,175.14 L85.10,175.37 L85.60,175.60 L86.10,175.83 L86.60,176.07 L87.10,176.31 L87.60,176.56 L88.10,176.81 L88.60,177.06 L89.10,177.32 L89.60,177.58 L90.10,177.85 L90.60,178.12 L91.10,178.39 L91.60,178.66 L92.10,178.94 L92.60,179.23 L93.10,179.51 L93.60,179.80 L94.10,180.10 L94.60,180.39 L95.10,180.69 L95.60,180.99 L96.10,181.30 L96.60,181.61 L97.10,181.92 L97.60,182.23 L98.10,182.55 L98.60,182.87 L99.10,183.19 L99.60,183.52 L100.10,183.85 L100.60,184.18 L101.10,184.51 L101.60,184.84 L102.10,185.18 L102.60,185.52 L103.10,185.87 L103.60,186.21 L104.10,186.56 L104.60,186.91 L105.10,187.26 L105.60,187.61 L106.10,187.97 L106.60,188.32 L107.10,188.68 L107.60,189.04 L108.10,189.41 L108.60,189.77 L109.10,190.14 L109.60,190.50 L110.10,190.87 L110.60,191.24 L111.10,191.61 L111.60,191.99 L112.10,192.36 L112.60,192.74 L113.10,193.12 L113.60,193.49 L114.10,193.87 L114.60,194.25 L115.10,194.64 L115.60,195.02 L116.10,195.40 L116.60,195.79 L117.10,196.17 L117.60,196.56 L118.10,196.94 L118.60,197.33 L119.10,197.72 L119.60,198.11 L120.10,198.49 L120.60,198.88 L121.10,199.27 L121.60,199.66 L122.10,200.05 L122.60,200.44 L123.10,200.83 L123.60,201.22 L124.10,201.61 L124.60,202.00 L125.10,202.39 L125.60,202.78 L126.10,203.17 L126.60,203.56 L127.10,203.95 L127.60,204.34 L128.10,204.73 L128.60,205.12 L129.10,205.50 L129.60,205.89 L130.10,206.28 L130.60,206.66 L131.10,207.05 L131.60,207.43 L132.10,207.82 L132.60,208.20 L133.10,208.58 L133.60,208.96 L134.10,209.34 L134.60,209.72 L135.10,210.09 L135.60,210.47 L136.10,210.84 L136.60,211.22 L137.10,211.59 L137.60,211.96 L138.10,212.33 L138.60,212.70 L139.10,213.06 L139.60,213.43 L140.10,213.79 L140.60,214.15 L141.10,214.51 L141.60,214.86 L142.10,215.22 L142.60,215.57 L143.10,215.92 L143.60,216.27 L144.10,216.62 L144.60,216.96 L145.10,217.31 L145.60,217.65 L146.10,217.98 L146.60,218.32 L147.10,218.65 L147.60,218.98 L148.10,219.31 L148.60,219.63 L149.10,219.96 L149.60,220.28 L150.10,220.59 L150.60,220.91 L151.10,221.22 L151.60,221.52 L152.10,221.83 L152.60,222.13 L153.10,222.43 L153.60,222.73 L154.10,223.02 L154.60,223.31 L155.10,223.59 L155.60,223.88 L156.10,224.15 L156.60,224.43 L157.10,224.70 L157.60,224.97 L158.10,225.23 L158.60,225.50 L159.10,225.75 L159.60,226.01 L160.00,226.21 L161.00,226.72 L162.00,227.20 L163.00,227.66 L164.00,228.07 L165.00,228.43 L166.00,228.76 L167.00,229.07 L168.00,229.36 L169.00,229.63 L170.00,229.88 L171.00,230.09 L172.00,230.28 L173.00,230.43 L174.00,230.55 L175.00,230.66 L176.00,230.76 L177.00,230.84 L178.00,230.90 L179.00,230.95 L180.00,231.00 L181.00,231.04 L182.00,231.07 L183.00,231.09 L184.00,231.10 L185.00,231.10 L186.00,231.10 L187.00,231.10 L188.00,231.10 L189.00,231.10 L190.00,231.10 L191.00,231.10 L192.00,231.10 L193.00,231.10 L194.00,231.11 L195.00,231.12 L196.00,231.14 L197.00,231.16 L198.00,231.18 L199.00,231.20 L200.00,231.23 L201.00,231.26 L202.00,231.29 L202.50,231.30 L202.5,232.0 L62.6,232.0 Z" fill="url(#gb)"/>
<path d="M202.3,116.1 V217.7" stroke="#cda2d2" stroke-width="0.6" fill="none" opacity="0.7"/>
<path d="M202.3,217.7 V231.7" stroke="#ffc8c8" stroke-width="0.6" fill="none" opacity="0.6"/>
<path d="M330.7,186.9 V231.7" stroke="#d9bfdd" stroke-width="0.5" fill="none" opacity="0.45"/>
<path d="M62.60,61.32 L63.10,61.31 L63.60,61.31 L64.10,61.31 L64.60,61.31 L65.10,61.31 L65.60,61.32 L66.10,61.32 L66.60,61.33 L67.10,61.34 L67.60,61.35 L68.10,61.37 L68.60,61.38 L69.10,61.40 L69.60,61.42 L70.10,61.44 L70.60,61.46 L71.10,61.49 L71.60,61.52 L72.10,61.55 L72.60,61.58 L73.10,61.61 L73.60,61.64 L74.10,61.68 L74.60,61.72 L75.10,61.76 L75.60,61.80 L76.10,61.84 L76.60,61.89 L77.10,61.93 L77.60,61.98 L78.10,62.03 L78.60,62.08 L79.10,62.14 L79.60,62.19 L80.10,62.25 L80.60,62.31 L81.10,62.37 L81.60,62.43 L82.10,62.49 L82.60,62.56 L83.10,62.63 L83.60,62.70 L84.10,62.77 L84.60,62.84 L85.10,62.92 L85.60,62.99 L86.10,63.07 L86.60,63.15 L87.10,63.23 L87.60,63.31 L88.10,63.40 L88.60,63.48 L89.10,63.57 L89.60,63.66 L90.10,63.75 L90.60,63.84 L91.10,63.94 L91.60,64.03 L92.10,64.13 L92.60,64.23 L93.10,64.33 L93.60,64.43 L94.10,64.54 L94.60,64.64 L95.10,64.75 L95.60,64.86 L96.10,64.97 L96.60,65.08 L97.10,65.20 L97.60,65.31 L98.10,65.43 L98.60,65.55 L99.10,65.67 L99.60,65.79 L100.10,65.91 L100.60,66.03 L101.10,66.16 L101.60,66.29 L102.10,66.42 L102.60,66.55 L103.10,66.68 L103.60,66.81 L104.10,66.95 L104.60,67.09 L105.10,67.22 L105.60,67.36 L106.10,67.50 L106.60,67.65 L107.10,67.79 L107.60,67.94 L108.10,68.08 L108.60,68.23 L109.10,68.38 L109.60,68.53 L110.10,68.69 L110.60,68.84 L111.10,69.00 L111.60,69.15 L112.10,69.31 L112.60,69.47 L113.10,69.63 L113.60,69.80 L114.10,69.96 L114.60,70.13 L115.10,70.29 L115.60,70.46 L116.10,70.63 L116.60,70.80 L117.10,70.97 L117.60,71.15 L118.10,71.32 L118.60,71.50 L119.10,71.68 L119.60,71.86 L120.10,72.04 L120.60,72.22 L121.10,72.40 L121.60,72.59 L122.10,72.77 L122.60,72.96 L123.10,73.15 L123.60,73.34 L124.10,73.53 L124.60,73.73 L125.10,73.92 L125.60,74.11 L126.10,74.31 L126.60,74.51 L127.10,74.71 L127.60,74.91 L128.10,75.11 L128.60,75.31 L129.10,75.52 L129.60,75.72 L130.10,75.93 L130.60,76.14 L131.10,76.35 L131.60,76.56 L132.10,76.77 L132.60,76.98 L133.10,77.19 L133.60,77.41 L134.10,77.63 L134.60,77.84 L135.10,78.06 L135.60,78.28 L136.10,78.50 L136.60,78.73 L137.10,78.95 L137.60,79.18 L138.10,79.40 L138.60,79.63 L139.10,79.86 L139.60,80.09 L140.10,80.32 L140.60,80.55 L141.10,80.78 L141.60,81.02 L142.10,81.25 L142.60,81.49 L143.10,81.73 L143.60,81.96 L144.10,82.20 L144.60,82.44 L145.10,82.69 L145.60,82.93 L146.10,83.17 L146.60,83.42 L147.10,83.66 L147.60,83.91 L148.10,84.16 L148.60,84.41 L149.10,84.66 L149.60,84.91 L150.10,85.16 L150.60,85.42 L151.10,85.67 L151.60,85.93 L152.10,86.19 L152.60,86.44 L153.10,86.70 L153.60,86.96 L154.10,87.22 L154.60,87.49 L155.10,87.75 L155.60,88.01 L156.10,88.28 L156.60,88.54 L157.10,88.81 L157.60,89.08 L158.10,89.35 L158.60,89.62 L159.10,89.89 L159.60,90.16 L160.10,90.43 L160.60,90.71 L161.10,90.98 L161.60,91.26 L162.10,91.53 L162.60,91.81 L163.10,92.09 L163.60,92.37 L164.10,92.65 L164.60,92.93 L165.10,93.21 L165.60,93.49 L166.10,93.78 L166.60,94.06 L167.10,94.35 L167.60,94.63 L168.10,94.92 L168.60,95.21 L169.10,95.50 L169.60,95.79 L170.10,96.08 L170.60,96.37 L171.10,96.66 L171.60,96.95 L172.10,97.25 L172.60,97.54 L173.10,97.84 L173.60,98.13 L174.10,98.43 L174.60,98.73 L175.10,99.03 L175.60,99.32 L176.10,99.62 L176.60,99.92 L177.10,100.23 L177.60,100.53 L178.10,100.83 L178.60,101.13 L179.10,101.44 L179.60,101.74 L180.10,102.05 L180.60,102.35 L181.10,102.66 L181.60,102.96 L182.10,103.27 L182.60,103.58 L183.10,103.89 L183.60,104.20 L184.10,104.51 L184.60,104.82 L185.10,105.13 L185.60,105.44 L186.10,105.75 L186.60,106.06 L187.10,106.38 L187.60,106.69 L188.10,107.00 L188.60,107.32 L189.10,107.63 L189.60,107.95 L190.10,108.26 L190.60,108.58 L191.10,108.90 L191.60,109.21 L192.10,109.53 L192.60,109.85 L193.10,110.17 L193.60,110.49 L194.10,110.80 L194.60,111.12 L195.10,111.44 L195.60,111.76 L196.10,112.08 L196.60,112.40 L197.10,112.73 L197.60,113.05 L198.10,113.37 L198.60,113.69 L199.10,114.01 L199.60,114.34 L200.10,114.66 L200.60,114.98 L201.10,115.30 L201.60,115.63 L202.10,115.95 L202.60,116.28 L203.10,116.60 L203.60,116.92 L204.10,117.25 L204.60,117.57 L205.10,117.90 L205.60,118.22 L206.10,118.55 L206.60,118.87 L207.10,119.20 L207.60,119.53 L208.10,119.85 L208.60,120.18 L209.10,120.50 L209.60,120.83 L210.10,121.16 L210.60,121.48 L211.10,121.81 L211.60,122.13 L212.10,122.46 L212.60,122.79 L213.10,123.11 L213.60,123.44 L214.10,123.77 L214.60,124.09 L215.10,124.42 L215.60,124.75 L216.10,125.07 L216.60,125.40 L217.10,125.72 L217.60,126.05 L218.10,126.38 L218.60,126.70 L219.10,127.03 L219.60,127.36 L220.10,127.68 L220.60,128.01 L221.10,128.33 L221.60,128.66 L222.10,128.98 L222.60,129.31 L223.10,129.63 L223.60,129.96 L224.10,130.28 L224.60,130.61 L225.10,130.93 L225.60,131.26 L226.10,131.58 L226.60,131.90 L227.10,132.23 L227.60,132.55 L228.10,132.87 L228.60,133.20 L229.10,133.52 L229.60,133.84 L230.10,134.16 L230.60,134.48 L231.10,134.81 L231.60,135.13 L232.10,135.45 L232.60,135.77 L233.10,136.09 L233.60,136.41 L234.10,136.73 L234.60,137.04 L235.10,137.36 L235.60,137.68 L236.10,138.00 L236.60,138.32 L237.10,138.63 L237.60,138.95 L238.10,139.27 L238.60,139.58 L239.10,139.90 L239.60,140.21 L240.10,140.53 L240.60,140.84 L241.10,141.15 L241.60,141.46 L242.10,141.78 L242.60,142.09 L243.10,142.40 L243.60,142.71 L244.10,143.02 L244.60,143.33 L245.10,143.64 L245.60,143.95 L246.10,144.26 L246.60,144.56 L247.10,144.87 L247.60,145.18 L248.10,145.48 L248.60,145.79 L249.10,146.09 L249.60,146.40 L250.10,146.70 L250.60,147.00 L251.10,147.31 L251.60,147.61 L252.10,147.91 L252.60,148.21 L253.10,148.51 L253.60,148.81 L254.10,149.11 L254.60,149.41 L255.10,149.70 L255.60,150.00 L256.10,150.30 L256.60,150.59 L257.10,150.89 L257.60,151.19 L258.10,151.48 L258.60,151.77 L259.10,152.07 L259.60,152.36 L260.10,152.65 L260.60,152.94 L261.10,153.23 L261.60,153.52 L262.10,153.81 L262.60,154.10 L263.10,154.39 L263.60,154.68 L264.10,154.97 L264.60,155.25 L265.10,155.54 L265.60,155.82 L266.10,156.11 L266.60,156.39 L267.10,156.68 L267.60,156.96 L268.10,157.24 L268.60,157.52 L269.10,157.80 L269.60,158.08 L270.10,158.36 L270.60,158.64 L271.10,158.92 L271.60,159.20 L272.10,159.48 L272.60,159.75 L273.10,160.03 L273.60,160.30 L274.10,160.58 L274.60,160.85 L275.10,161.12 L275.60,161.40 L276.10,161.67 L276.60,161.94 L277.10,162.21 L277.60,162.48 L278.10,162.75 L278.60,163.02 L279.10,163.29 L279.60,163.55 L280.10,163.82 L280.60,164.09 L281.10,164.35 L281.60,164.62 L282.10,164.88 L282.60,165.14 L283.10,165.40 L283.60,165.67 L284.10,165.93 L284.60,166.19 L285.10,166.45 L285.60,166.71 L286.10,166.96 L286.60,167.22 L287.10,167.48 L287.60,167.73 L288.10,167.99 L288.60,168.24 L289.10,168.50 L289.60,168.75 L290.10,169.00 L290.60,169.26 L291.10,169.51 L291.60,169.76 L292.10,170.01 L292.60,170.26 L293.10,170.50 L293.60,170.75 L294.10,171.00 L294.60,171.24 L295.10,171.49 L295.60,171.73 L296.10,171.98 L296.60,172.22 L297.10,172.46 L297.60,172.70 L298.10,172.94 L298.60,173.18 L299.10,173.42 L299.60,173.66 L300.10,173.90 L300.60,174.13 L301.10,174.37 L301.60,174.61 L302.10,174.84 L302.60,175.07 L303.10,175.31 L303.60,175.54 L304.10,175.77 L304.60,176.00 L305.10,176.23 L305.60,176.46 L306.10,176.69 L306.60,176.92 L307.10,177.14 L307.60,177.37 L308.10,177.59 L308.60,177.82 L309.10,178.04 L309.60,178.27 L310.10,178.49 L310.60,178.71 L311.10,178.93 L311.60,179.15 L312.10,179.37 L312.60,179.58 L313.10,179.80 L313.60,180.02 L314.10,180.23 L314.60,180.45 L315.10,180.66 L315.60,180.87 L316.10,181.09 L316.60,181.30 L317.10,181.51 L317.60,181.72 L318.10,181.93 L318.60,182.13 L319.10,182.34 L319.60,182.55 L320.10,182.75 L320.60,182.96 L321.10,183.16 L321.60,183.36 L322.10,183.57 L322.60,183.77 L323.10,183.97 L323.60,184.17 L324.10,184.37 L324.60,184.56 L325.10,184.76 L325.60,184.96 L326.10,185.15 L326.60,185.35 L327.10,185.54 L327.60,185.73 L328.10,185.92 L328.60,186.11 L329.10,186.30 L329.60,186.49 L330.10,186.68 L330.60,186.87 L331.10,187.05 L331.60,187.24 L332.10,187.42 L332.60,187.61 L333.10,187.79 L333.60,187.97 L334.10,188.15 L334.60,188.33 L335.10,188.51 L335.60,188.69 L336.10,188.87 L336.60,189.04 L337.10,189.22 L337.60,189.39 L338.10,189.57 L338.60,189.74 L339.10,189.91 L339.60,190.08 L340.10,190.25 L340.60,190.42 L341.10,190.59 L341.60,190.75 L342.10,190.92 L342.60,191.08 L343.10,191.25 L343.60,191.41 L344.10,191.57 L344.60,191.73 L345.10,191.89 L345.60,192.05 L346.10,192.21 L346.60,192.36 L347.10,192.52 L347.60,192.67 L348.10,192.82 L348.60,192.98 L349.10,193.13 L349.60,193.28 L350.10,193.43 L350.60,193.57 L351.10,193.72 L351.60,193.87 L352.10,194.01 L352.60,194.15 L353.10,194.30 L353.60,194.44 L354.10,194.58 L354.60,194.72 L355.10,194.85 L355.60,194.99 L356.10,195.13 L356.60,195.26 L357.10,195.39 L357.60,195.53 L358.10,195.66 L358.60,195.79 L359.10,195.92 L359.60,196.04 L360.10,196.17 L360.60,196.30 L361.10,196.42 L361.60,196.54 L362.10,196.66 L362.60,196.78 L363.10,196.90 L363.60,197.02 L364.10,197.14 L364.60,197.25 L365.10,197.37 L365.60,197.48 L366.10,197.59 L366.60,197.70 L367.10,197.81 L367.60,197.92 L368.10,198.03 L368.60,198.14 L369.10,198.24 L369.60,198.34 L370.10,198.44 L370.60,198.55 L371.10,198.65 L371.60,198.74 L372.10,198.84 L372.60,198.94 L373.10,199.03 L373.60,199.12 L374.10,199.22 L374.60,199.31 L375.10,199.39 L375.60,199.48 L376.10,199.57 L376.60,199.65 L377.10,199.74 L377.60,199.82 L378.10,199.90 L378.60,199.98 L379.10,200.06 L379.60,200.14 L380.10,200.21 L380.60,200.29 L381.10,200.36 L381.60,200.43 L382.10,200.50 L382.60,200.57 L383.10,200.64 L383.60,200.71 L384.10,200.77 L384.60,200.83 L385.10,200.90 L385.60,200.96 L386.10,201.02 L386.60,201.07 L387.10,201.13 L387.60,201.18 L388.10,201.24 L388.60,201.29 L389.10,201.34 L389.60,201.39 L390.10,201.44 L390.60,201.48 L391.00,201.52" fill="none" stroke="#800080" stroke-width="1.3" stroke-linejoin="round"/>
<path d="M62.60,140.58 L63.10,140.60 L63.60,140.62 L64.10,140.64 L64.60,140.67 L65.10,140.70 L65.60,140.73 L66.10,140.77 L66.60,140.81 L67.10,140.85 L67.60,140.89 L68.10,140.94 L68.60,140.99 L69.10,141.05 L69.60,141.10 L70.10,141.17 L70.60,141.23 L71.10,141.30 L71.60,141.37 L72.10,141.44 L72.60,141.51 L73.10,141.59 L73.60,141.67 L74.10,141.76 L74.60,141.85 L75.10,141.94 L75.60,142.03 L76.10,142.13 L76.60,142.23 L77.10,142.33 L77.60,142.43 L78.10,142.54 L78.60,142.65 L79.10,142.77 L79.60,142.88 L80.10,143.00 L80.60,143.12 L81.10,143.25 L81.60,143.38 L82.10,143.51 L82.60,143.64 L83.10,143.78 L83.60,143.91 L84.10,144.06 L84.60,144.20 L85.10,144.35 L85.60,144.50 L86.10,144.65 L86.60,144.80 L87.10,144.96 L87.60,145.12 L88.10,145.28 L88.60,145.45 L89.10,145.61 L89.60,145.78 L90.10,145.96 L90.60,146.13 L91.10,146.31 L91.60,146.49 L92.10,146.67 L92.60,146.86 L93.10,147.05 L93.60,147.24 L94.10,147.43 L94.60,147.63 L95.10,147.82 L95.60,148.02 L96.10,148.23 L96.60,148.43 L97.10,148.64 L97.60,148.85 L98.10,149.06 L98.60,149.27 L99.10,149.49 L99.60,149.71 L100.10,149.93 L100.60,150.15 L101.10,150.38 L101.60,150.61 L102.10,150.84 L102.60,151.07 L103.10,151.30 L103.60,151.54 L104.10,151.78 L104.60,152.02 L105.10,152.27 L105.60,152.51 L106.10,152.76 L106.60,153.01 L107.10,153.26 L107.60,153.52 L108.10,153.77 L108.60,154.03 L109.10,154.29 L109.60,154.55 L110.10,154.82 L110.60,155.08 L111.10,155.35 L111.60,155.62 L112.10,155.90 L112.60,156.17 L113.10,156.45 L113.60,156.72 L114.10,157.01 L114.60,157.29 L115.10,157.57 L115.60,157.86 L116.10,158.15 L116.60,158.44 L117.10,158.73 L117.60,159.02 L118.10,159.32 L118.60,159.61 L119.10,159.91 L119.60,160.21 L120.10,160.52 L120.60,160.82 L121.10,161.13 L121.60,161.44 L122.10,161.74 L122.60,162.06 L123.10,162.37 L123.60,162.68 L124.10,163.00 L124.60,163.32 L125.10,163.64 L125.60,163.96 L126.10,164.28 L126.60,164.61 L127.10,164.93 L127.60,165.26 L128.10,165.59 L128.60,165.92 L129.10,166.26 L129.60,166.59 L130.10,166.93 L130.60,167.26 L131.10,167.60 L131.60,167.94 L132.10,168.28 L132.60,168.63 L133.10,168.97 L133.60,169.32 L134.10,169.67 L134.60,170.01 L135.10,170.36 L135.60,170.72 L136.10,171.07 L136.60,171.42 L137.10,171.78 L137.60,172.14 L138.10,172.50 L138.60,172.86 L139.10,173.22 L139.60,173.58 L140.10,173.94 L140.60,174.31 L141.10,174.67 L141.60,175.04 L142.10,175.41 L142.60,175.78 L143.10,176.15 L143.60,176.52 L144.10,176.90 L144.60,177.27 L145.10,177.65 L145.60,178.02 L146.10,178.40 L146.60,178.78 L147.10,179.16 L147.60,179.54 L148.10,179.93 L148.60,180.31 L149.10,180.69 L149.60,181.08 L150.10,181.47 L150.60,181.85 L151.10,182.24 L151.60,182.63 L152.10,183.02 L152.60,183.41 L153.10,183.81 L153.60,184.20 L154.10,184.59 L154.60,184.99 L155.10,185.39 L155.60,185.78 L156.10,186.18 L156.60,186.58 L157.10,186.98 L157.60,187.38 L158.10,187.78 L158.60,188.18 L159.10,188.58 L159.60,188.99 L160.10,189.39 L160.60,189.80 L161.10,190.20 L161.60,190.61 L162.10,191.02 L162.60,191.43 L163.10,191.83 L163.60,192.24 L164.10,192.65 L164.60,193.06 L165.10,193.47 L165.60,193.87 L166.10,194.28 L166.60,194.69 L167.10,195.09 L167.60,195.50 L168.10,195.90 L168.60,196.31 L169.10,196.71 L169.60,197.11 L170.10,197.50 L170.60,197.90 L171.10,198.29 L171.60,198.68 L172.10,199.07 L172.60,199.46 L173.10,199.84 L173.60,200.23 L174.10,200.60 L174.60,200.98 L175.10,201.35 L175.60,201.72 L176.10,202.09 L176.60,202.45 L177.10,202.81 L177.60,203.16 L178.10,203.51 L178.60,203.86 L179.10,204.21 L179.60,204.55 L180.10,204.89 L180.60,205.23 L181.10,205.57 L181.60,205.90 L182.10,206.23 L182.60,206.55 L183.10,206.87 L183.60,207.19 L184.10,207.51 L184.60,207.83 L185.10,208.14 L185.60,208.45 L186.10,208.76 L186.60,209.06 L187.10,209.37 L187.60,209.67 L188.10,209.97 L188.60,210.26 L189.10,210.56 L189.60,210.85 L190.10,211.14 L190.60,211.42 L191.10,211.71 L191.60,211.99 L192.10,212.28 L192.60,212.55 L193.10,212.83 L193.60,213.11 L194.10,213.38 L194.60,213.66 L195.10,213.93 L195.60,214.20 L196.10,214.46 L196.60,214.73 L197.10,215.00 L197.60,215.26 L198.10,215.52 L198.60,215.78 L199.10,216.04 L199.60,216.30 L200.10,216.56 L200.60,216.81 L201.10,217.07 L201.60,217.32 L202.10,217.57 L202.60,217.82 L203.10,218.08 L203.60,218.32 L204.10,218.57 L204.60,218.82 L205.10,219.07 L205.60,219.32 L206.10,219.56 L206.60,219.81 L207.10,220.05 L207.60,220.29 L208.10,220.54 L208.60,220.78 L209.10,221.02 L209.60,221.26 L210.10,221.49 L210.60,221.73 L211.10,221.96 L211.60,222.20 L212.10,222.43 L212.60,222.66 L213.10,222.89 L213.60,223.12 L214.10,223.34 L214.60,223.57 L215.10,223.79 L215.60,224.01 L216.10,224.23 L216.60,224.44 L217.10,224.66 L217.60,224.87 L218.10,225.08 L218.60,225.29 L219.10,225.49 L219.60,225.70 L220.10,225.90 L220.60,226.10 L221.10,226.29 L221.60,226.49 L222.10,226.68 L222.60,226.87 L223.10,227.05 L223.60,227.23 L224.10,227.41 L224.60,227.59 L225.10,227.76 L225.60,227.94 L226.10,228.10 L226.60,228.27 L227.10,228.43 L227.60,228.59 L228.10,228.74 L228.60,228.89 L229.10,229.04 L229.60,229.19 L230.10,229.33 L230.60,229.47 L231.10,229.60 L231.60,229.73 L232.10,229.86 L232.60,229.98 L233.10,230.10 L233.60,230.21 L234.10,230.32 L234.60,230.43 L235.10,230.53 L235.60,230.63 L236.10,230.72 L236.60,230.81 L237.10,230.90 L237.60,230.98 L238.10,231.06 L238.60,231.13 L239.10,231.20 L239.60,231.26 L240.10,231.32 L240.60,231.37 L241.10,231.42 L241.60,231.46 L242.10,231.50 L242.60,231.53 L243.10,231.56 L243.60,231.59 L244.00,231.60 L245.00,231.67 L246.00,231.74 L247.00,231.79 L248.00,231.82 L249.00,231.84 L250.00,231.85 L251.00,231.84 L252.00,231.82 L253.00,231.79 L254.00,231.75 L255.00,231.70 L256.00,231.56 L257.00,231.35 L258.00,231.25 L259.00,231.32 L260.00,231.47 L261.00,231.60 L262.00,231.68 L263.00,231.76 L264.00,231.82 L265.00,231.85 L266.00,231.87 L267.00,231.89 L268.00,231.90 L269.00,231.92 L270.00,231.93 L271.00,231.95 L272.00,231.96 L273.00,231.97 L274.00,231.98 L275.00,231.98 L276.00,231.99 L277.00,231.99 L278.00,232.00 L279.00,232.00 L280.00,232.00 L281.00,232.00 L282.00,232.00 L283.00,232.00 L284.00,232.00 L285.00,232.00 L286.00,231.99 L287.00,231.99 L288.00,231.99 L289.00,231.99 L290.00,231.99 L291.00,231.98 L292.00,231.98 L293.00,231.98 L294.00,231.97 L295.00,231.97 L296.00,231.97 L297.00,231.96 L298.00,231.96 L299.00,231.95 L300.00,231.95 L301.00,231.94 L302.00,231.94 L303.00,231.93 L304.00,231.91 L305.00,231.90 L306.00,231.88 L307.00,231.86 L308.00,231.85 L309.00,231.83 L310.00,231.80 L311.00,231.78 L312.00,231.76 L313.00,231.74 L314.00,231.72 L315.00,231.70 L316.00,231.68 L317.00,231.65 L318.00,231.62 L319.00,231.58 L320.00,231.55 L321.00,231.52 L322.00,231.49 L323.00,231.47 L324.00,231.46 L325.00,231.45 L326.00,231.45 L327.00,231.46 L328.00,231.48 L329.00,231.51 L330.00,231.53 L330.50,231.55" fill="none" stroke="#e6001a" stroke-width="1.3" stroke-linejoin="round"/>
<path d="M62.60,170.20 L63.10,170.19 L63.60,170.18 L64.10,170.18 L64.60,170.19 L65.10,170.20 L65.60,170.22 L66.10,170.25 L66.60,170.28 L67.10,170.32 L67.60,170.36 L68.10,170.41 L68.60,170.47 L69.10,170.53 L69.60,170.60 L70.10,170.67 L70.60,170.75 L71.10,170.84 L71.60,170.93 L72.10,171.03 L72.60,171.13 L73.10,171.24 L73.60,171.35 L74.10,171.47 L74.60,171.60 L75.10,171.73 L75.60,171.86 L76.10,172.00 L76.60,172.15 L77.10,172.30 L77.60,172.46 L78.10,172.62 L78.60,172.78 L79.10,172.96 L79.60,173.13 L80.10,173.31 L80.60,173.50 L81.10,173.69 L81.60,173.88 L82.10,174.08 L82.60,174.28 L83.10,174.49 L83.60,174.71 L84.10,174.92 L84.60,175.14 L85.10,175.37 L85.60,175.60 L86.10,175.83 L86.60,176.07 L87.10,176.31 L87.60,176.56 L88.10,176.81 L88.60,177.06 L89.10,177.32 L89.60,177.58 L90.10,177.85 L90.60,178.12 L91.10,178.39 L91.60,178.66 L92.10,178.94 L92.60,179.23 L93.10,179.51 L93.60,179.80 L94.10,180.10 L94.60,180.39 L95.10,180.69 L95.60,180.99 L96.10,181.30 L96.60,181.61 L97.10,181.92 L97.60,182.23 L98.10,182.55 L98.60,182.87 L99.10,183.19 L99.60,183.52 L100.10,183.85 L100.60,184.18 L101.10,184.51 L101.60,184.84 L102.10,185.18 L102.60,185.52 L103.10,185.87 L103.60,186.21 L104.10,186.56 L104.60,186.91 L105.10,187.26 L105.60,187.61 L106.10,187.97 L106.60,188.32 L107.10,188.68 L107.60,189.04 L108.10,189.41 L108.60,189.77 L109.10,190.14 L109.60,190.50 L110.10,190.87 L110.60,191.24 L111.10,191.61 L111.60,191.99 L112.10,192.36 L112.60,192.74 L113.10,193.12 L113.60,193.49 L114.10,193.87 L114.60,194.25 L115.10,194.64 L115.60,195.02 L116.10,195.40 L116.60,195.79 L117.10,196.17 L117.60,196.56 L118.10,196.94 L118.60,197.33 L119.10,197.72 L119.60,198.11 L120.10,198.49 L120.60,198.88 L121.10,199.27 L121.60,199.66 L122.10,200.05 L122.60,200.44 L123.10,200.83 L123.60,201.22 L124.10,201.61 L124.60,202.00 L125.10,202.39 L125.60,202.78 L126.10,203.17 L126.60,203.56 L127.10,203.95 L127.60,204.34 L128.10,204.73 L128.60,205.12 L129.10,205.50 L129.60,205.89 L130.10,206.28 L130.60,206.66 L131.10,207.05 L131.60,207.43 L132.10,207.82 L132.60,208.20 L133.10,208.58 L133.60,208.96 L134.10,209.34 L134.60,209.72 L135.10,210.09 L135.60,210.47 L136.10,210.84 L136.60,211.22 L137.10,211.59 L137.60,211.96 L138.10,212.33 L138.60,212.70 L139.10,213.06 L139.60,213.43 L140.10,213.79 L140.60,214.15 L141.10,214.51 L141.60,214.86 L142.10,215.22 L142.60,215.57 L143.10,215.92 L143.60,216.27 L144.10,216.62 L144.60,216.96 L145.10,217.31 L145.60,217.65 L146.10,217.98 L146.60,218.32 L147.10,218.65 L147.60,218.98 L148.10,219.31 L148.60,219.63 L149.10,219.96 L149.60,220.28 L150.10,220.59 L150.60,220.91 L151.10,221.22 L151.60,221.52 L152.10,221.83 L152.60,222.13 L153.10,222.43 L153.60,222.73 L154.10,223.02 L154.60,223.31 L155.10,223.59 L155.60,223.88 L156.10,224.15 L156.60,224.43 L157.10,224.70 L157.60,224.97 L158.10,225.23 L158.60,225.50 L159.10,225.75 L159.60,226.01 L160.00,226.21 L161.00,226.72 L162.00,227.20 L163.00,227.66 L164.00,228.07 L165.00,228.43 L166.00,228.76 L167.00,229.07 L168.00,229.36 L169.00,229.63 L170.00,229.88 L171.00,230.09 L172.00,230.28 L173.00,230.43 L174.00,230.55 L175.00,230.66 L176.00,230.76 L177.00,230.84 L178.00,230.90 L179.00,230.95 L180.00,231.00 L181.00,231.04 L182.00,231.07 L183.00,231.09 L184.00,231.10 L185.00,231.10 L186.00,231.10 L187.00,231.10 L188.00,231.10 L189.00,231.10 L190.00,231.10 L191.00,231.10 L192.00,231.10 L193.00,231.10 L194.00,231.11 L195.00,231.12 L196.00,231.14 L197.00,231.16 L198.00,231.18 L199.00,231.20 L200.00,231.23 L201.00,231.26 L202.00,231.29 L202.50,231.30" fill="none" stroke="#1800e0" stroke-width="1.35" stroke-linejoin="round"/>
<rect x="55.7" y="24.4" width="341.8" height="211.5" fill="none" stroke="#7a7a7a" stroke-width="0.9"/>
<path d="M62.60,235.9 v-4.2 M62.60,24.4 v4.2 M79.00,235.9 v-2.8 M79.00,24.4 v2.8 M95.40,235.9 v-2.8 M95.40,24.4 v2.8 M111.80,235.9 v-2.8 M111.80,24.4 v2.8 M128.20,235.9 v-4.2 M128.20,24.4 v4.2 M144.60,235.9 v-2.8 M144.60,24.4 v2.8 M161.00,235.9 v-2.8 M161.00,24.4 v2.8 M177.40,235.9 v-2.8 M177.40,24.4 v2.8 M193.80,235.9 v-4.2 M193.80,24.4 v4.2 M210.20,235.9 v-2.8 M210.20,24.4 v2.8 M226.60,235.9 v-2.8 M226.60,24.4 v2.8 M243.00,235.9 v-2.8 M243.00,24.4 v2.8 M259.40,235.9 v-4.2 M259.40,24.4 v4.2 M275.80,235.9 v-2.8 M275.80,24.4 v2.8 M292.20,235.9 v-2.8 M292.20,24.4 v2.8 M308.60,235.9 v-2.8 M308.60,24.4 v2.8 M325.00,235.9 v-4.2 M325.00,24.4 v4.2 M341.40,235.9 v-2.8 M341.40,24.4 v2.8 M357.80,235.9 v-2.8 M357.80,24.4 v2.8 M374.20,235.9 v-2.8 M374.20,24.4 v2.8 M390.60,235.9 v-4.2 M390.60,24.4 v4.2 M55.7,231.70 h4.5 M397.5,231.70 h-4.5 M55.7,225.89 h2.8 M397.5,225.89 h-2.8 M55.7,220.08 h2.8 M397.5,220.08 h-2.8 M55.7,214.28 h2.8 M397.5,214.28 h-2.8 M55.7,208.47 h2.8 M397.5,208.47 h-2.8 M55.7,202.66 h4.5 M397.5,202.66 h-4.5 M55.7,196.85 h2.8 M397.5,196.85 h-2.8 M55.7,191.04 h2.8 M397.5,191.04 h-2.8 M55.7,185.24 h2.8 M397.5,185.24 h-2.8 M55.7,179.43 h2.8 M397.5,179.43 h-2.8 M55.7,173.62 h4.5 M397.5,173.62 h-4.5 M55.7,167.81 h2.8 M397.5,167.81 h-2.8 M55.7,162.00 h2.8 M397.5,162.00 h-2.8 M55.7,156.20 h2.8 M397.5,156.20 h-2.8 M55.7,150.39 h2.8 M397.5,150.39 h-2.8 M55.7,144.58 h4.5 M397.5,144.58 h-4.5 M55.7,138.77 h2.8 M397.5,138.77 h-2.8 M55.7,132.96 h2.8 M397.5,132.96 h-2.8 M55.7,127.16 h2.8 M397.5,127.16 h-2.8 M55.7,121.35 h2.8 M397.5,121.35 h-2.8 M55.7,115.54 h4.5 M397.5,115.54 h-4.5 M55.7,109.73 h2.8 M397.5,109.73 h-2.8 M55.7,103.92 h2.8 M397.5,103.92 h-2.8 M55.7,98.12 h2.8 M397.5,98.12 h-2.8 M55.7,92.31 h2.8 M397.5,92.31 h-2.8 M55.7,86.50 h4.5 M397.5,86.50 h-4.5 M55.7,80.69 h2.8 M397.5,80.69 h-2.8 M55.7,74.88 h2.8 M397.5,74.88 h-2.8 M55.7,69.08 h2.8 M397.5,69.08 h-2.8 M55.7,63.27 h2.8 M397.5,63.27 h-2.8 M55.7,57.46 h4.5 M397.5,57.46 h-4.5 M55.7,51.65 h2.8 M397.5,51.65 h-2.8 M55.7,45.84 h2.8 M397.5,45.84 h-2.8 M55.7,40.04 h2.8 M397.5,40.04 h-2.8 M55.7,34.23 h2.8 M397.5,34.23 h-2.8 M55.7,28.42 h4.5 M397.5,28.42 h-4.5" stroke="#7a7a7a" stroke-width="0.7" fill="none"/>
<g font-size="10.6px"><text x="61.4" y="250" text-anchor="middle">0.0</text><text x="127.0" y="250" text-anchor="middle">0.2</text><text x="192.6" y="250" text-anchor="middle">0.4</text><text x="258.2" y="250" text-anchor="middle">0.6</text><text x="323.8" y="250" text-anchor="middle">0.8</text><text x="389.4" y="250" text-anchor="middle">1.0</text><text x="47.3" y="236.0" text-anchor="end">0.00</text><text x="47.3" y="207.0" text-anchor="end">0.01</text><text x="47.3" y="177.9" text-anchor="end">0.02</text><text x="47.3" y="148.9" text-anchor="end">0.03</text><text x="47.3" y="119.8" text-anchor="end">0.04</text><text x="47.3" y="90.8" text-anchor="end">0.05</text><text x="47.3" y="61.8" text-anchor="end">0.06</text><text x="47.3" y="32.7" text-anchor="end">0.07</text></g>
<g><text transform="translate(203.9,13.5) scale(1.07,1)" font-size="17.5px" font-style="italic">d</text><rect x="218.7" y="7.15" width="12.4" height="0.75" fill="#000"/><rect x="218.7" y="9.9" width="12.4" height="0.75" fill="#000"/><text x="237.9" y="13.5" font-size="18px">3</text></g>
<text transform="translate(0.3,127.7) scale(1.27,1)" x="0" y="0" font-size="13.5px" font-style="italic">T</text>
<rect x="0" y="129.7" width="10.8" height="0.9" fill="#000"/>
<text transform="translate(1.2,141.3) scale(1.25,1)" x="0" y="0" font-size="12.8px" font-style="italic">μ</text>
<g fill="none" stroke="#000" stroke-linecap="round">
<path d="M226.8,259.3 C224.3,259.3 222.2,262.0 222.2,264.7 C222.2,266.6 223.4,267.7 225.2,267.7" stroke-width="1.4"/>
<path d="M225.2,267.7 C227.6,267.7 230.0,264.4 232.1,260.2" stroke-width="0.7"/>
<path d="M226.8,259.3 C228.5,259.3 229.2,261.2 229.5,263.5 C229.8,265.9 230.2,267.6 231.5,267.6 C232.2,267.6 232.6,266.8 232.8,265.9" stroke-width="0.9"/>
</g>
</svg></div>
</body></html>
